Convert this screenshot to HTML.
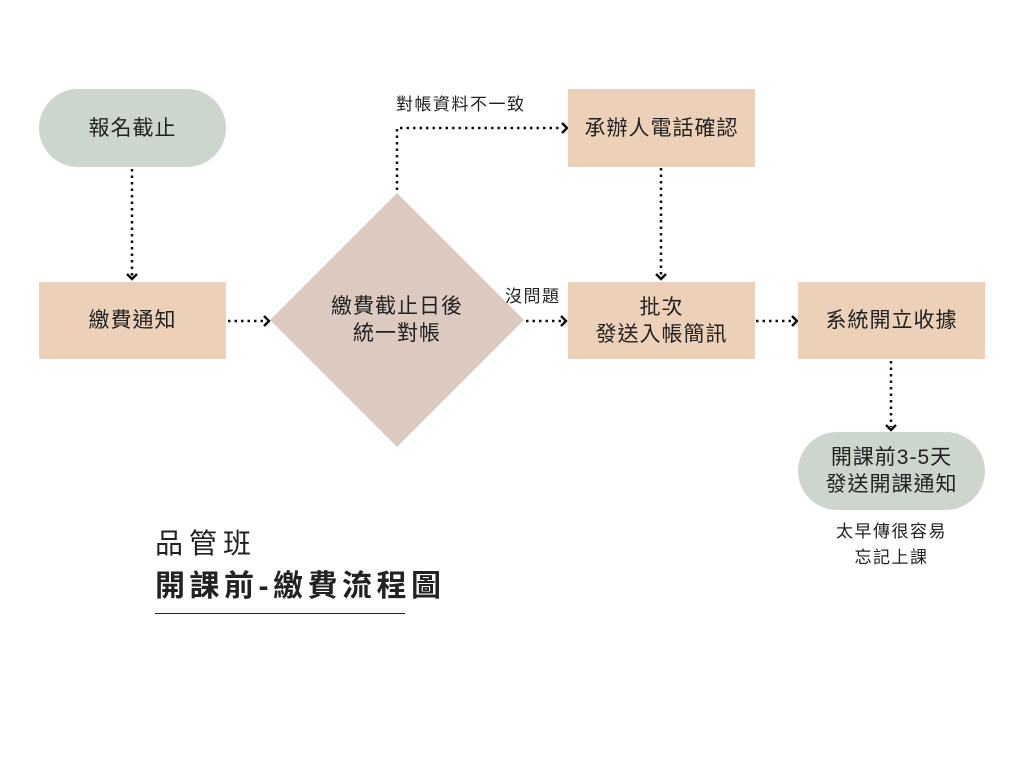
<!DOCTYPE html>
<html><head><meta charset="utf-8"><style>
body{margin:0;width:1024px;height:768px;background:#fff;position:relative;overflow:hidden;font-family:"Liberation Sans","Noto Sans CJK TC",sans-serif;color:#222}
.n{position:absolute;display:flex;align-items:center;justify-content:center;text-align:center;font-size:21px;line-height:27px;letter-spacing:1px}
.g{background:#cdd6cc}
.p{background:#ecd0b8}
.t{position:absolute;font-size:17px;letter-spacing:1.5px}
</style></head><body>
<svg width="1024" height="768" style="position:absolute;left:0;top:0">
<polygon points="397,193 524,320 397,447 270,320" fill="#dccac0"/>
<g stroke="#111" stroke-width="2.5" stroke-dasharray="2.5 4" fill="none">
<path d="M132,169V276"/>
<path d="M397,190V128H562"/>
<path d="M661,168V276"/>
<path d="M228,321H265"/>
<path d="M526,321H562"/>
<path d="M756,321H793"/>
<path d="M891,361V427"/>
</g>
<g stroke="#111" stroke-width="2.5" fill="none">
<path d="M127,274l5,5l5,-5"/>
<path d="M562,123l5,5l-5,5"/>
<path d="M656,274l5,5l5,-5"/>
<path d="M264,316l5,5l-5,5"/>
<path d="M561,316l5,5l-5,5"/>
<path d="M792,316l5,5l-5,5"/>
<path d="M886,425l5,5l5,-5"/>
</g>
<line x1="155" y1="613.5" x2="405" y2="613.5" stroke="#222" stroke-width="1"/>
</svg>
<div class="n g" style="left:39px;top:89px;width:187px;height:78px;border-radius:39px">報名截止</div>
<div class="n p" style="left:39px;top:282px;width:187px;height:77px">繳費通知</div>
<div class="n" style="left:287px;top:290px;width:220px;height:60px">繳費截止日後<br>統一對帳</div>
<div class="n p" style="left:568px;top:89px;width:187px;height:78px">承辦人電話確認</div>
<div class="n p" style="left:568px;top:282px;width:187px;height:77px">批次<br>發送入帳簡訊</div>
<div class="n p" style="left:798px;top:282px;width:187px;height:77px">系統開立收據</div>
<div class="n g" style="left:798px;top:432px;width:187px;height:78px;border-radius:39px">開課前3-5天<br>發送開課通知</div>
<div class="t" style="left:396px;top:90px">對帳資料不一致</div>
<div class="t" style="left:505px;top:282px">沒問題</div>
<div class="t" style="left:788px;top:519px;width:207px;text-align:center;line-height:26px">太早傳很容易<br>忘記上課</div>
<div class="t" style="left:155px;top:522px;font-size:28px;letter-spacing:6px">品管班</div>
<div class="t" style="left:155px;top:561px;font-size:30px;font-weight:bold;letter-spacing:4.5px">開課前-繳費流程圖</div>
</body></html>
